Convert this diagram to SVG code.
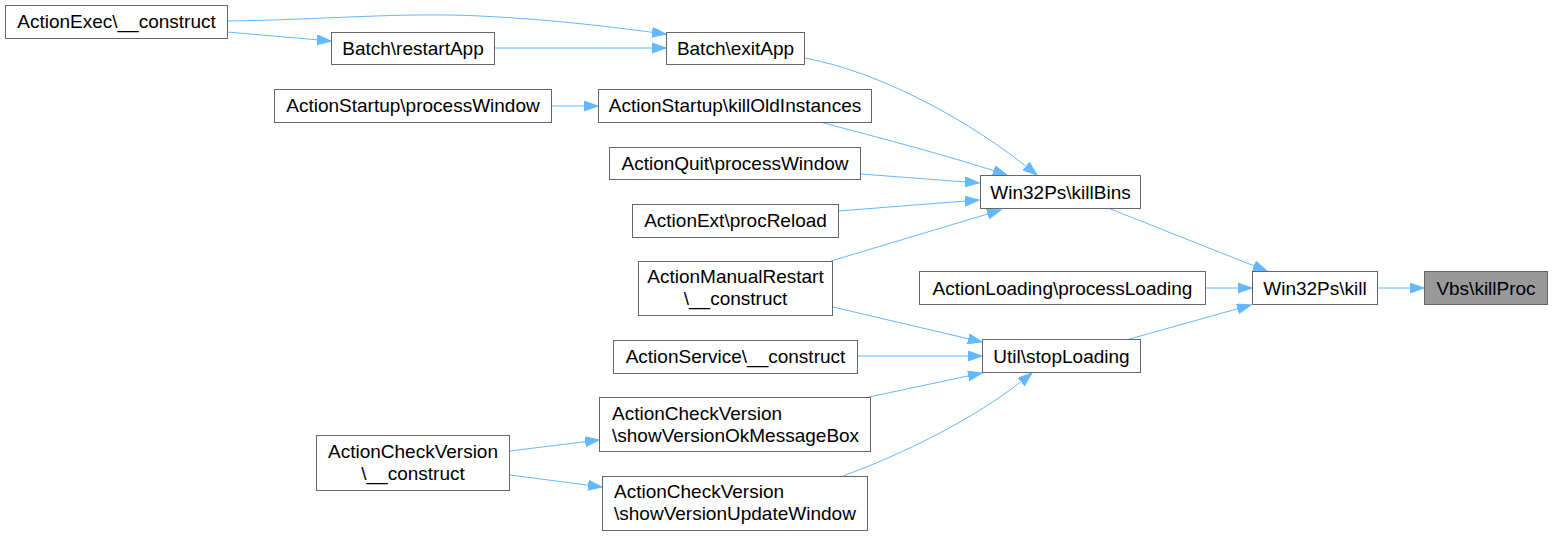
<svg xmlns="http://www.w3.org/2000/svg" width="1552" height="536" viewBox="0 0 1552 536">
<style>
.n rect{fill:#ffffff;stroke:#666666;stroke-width:1}
.n text{font-family:"Liberation Sans",Arial,sans-serif;font-size:19px;fill:#000000;text-anchor:middle}
.n text.l{text-anchor:start}
#n12 rect{fill:#999999}
#edges path{fill:none;stroke:#63b8ff;stroke-width:1;marker-end:url(#arr)}
</style>
<defs>
<marker id="arr" markerUnits="userSpaceOnUse" markerWidth="16" markerHeight="12" refX="14" refY="5" orient="auto">
<path d="M0,0 L14,5 L0,10 z" fill="#63b8ff" stroke="#63b8ff" stroke-width="1"/>
</marker>
</defs>
<rect width="1552" height="536" fill="#ffffff"/>
<g id="edges">
<path d="M227,21 C320,20 400,12 480,16 C560,20 610,27 666,34"/>
<path d="M227,32 L331,41"/>
<path d="M494,48 L666,48"/>
<path d="M551,106 L598,106"/>
<path d="M805,58 C880,72 970,120 1037,175"/>
<path d="M820,122 C880,138 950,156 1007,175"/>
<path d="M861,174 L979,183"/>
<path d="M838,211 L979,200"/>
<path d="M831,261 L1001,210"/>
<path d="M1108,208 L1267,271"/>
<path d="M1205,288 L1252,288"/>
<path d="M1378,288 L1424,288"/>
<path d="M1126,340 L1251,305"/>
<path d="M833,307 L982,342"/>
<path d="M857,356 L982,356"/>
<path d="M869,397 L982,373"/>
<path d="M843,476 C900,455 975,420 1032,373"/>
<path d="M510,451 L599,440"/>
<path d="M510,475 L602,487"/>
</g>
<g id="n1" class="n"><rect x="5.5" y="5.5" width="222" height="33"/><text x="116.5" y="28">ActionExec\__construct</text></g>
<g id="n2" class="n"><rect x="331.5" y="32.5" width="163" height="32"/><text x="413" y="54.5">Batch\restartApp</text></g>
<g id="n3" class="n"><rect x="666.5" y="32.5" width="138" height="32"/><text x="735.5" y="54.5">Batch\exitApp</text></g>
<g id="n4" class="n"><rect x="274.5" y="89.5" width="277" height="33"/><text x="413" y="112">ActionStartup\processWindow</text></g>
<g id="n5" class="n"><rect x="598.5" y="89.5" width="273" height="33"/><text x="735" y="112">ActionStartup\killOldInstances</text></g>
<g id="n6" class="n"><rect x="609.5" y="147.5" width="251" height="32"/><text x="735" y="169.5">ActionQuit\processWindow</text></g>
<g id="n7" class="n"><rect x="632.5" y="204.5" width="206" height="33"/><text x="735.5" y="227">ActionExt\procReload</text></g>
<g id="n8" class="n"><rect x="638.5" y="261.5" width="194" height="54"/><text x="735.5" y="283">ActionManualRestart</text><text x="735.5" y="305">\__construct</text></g>
<g id="n9" class="n"><rect x="980.5" y="175.5" width="160" height="33"/><text x="1060.5" y="198.5">Win32Ps\killBins</text></g>
<g id="n10" class="n"><rect x="919.5" y="271.5" width="286" height="33"/><text x="1062.5" y="294.5">ActionLoading\processLoading</text></g>
<g id="n11" class="n"><rect x="1252.5" y="271.5" width="125" height="33"/><text x="1315" y="294.5">Win32Ps\kill</text></g>
<g id="n12" class="n"><rect x="1424.5" y="271.5" width="123" height="33"/><text x="1486" y="294.5">Vbs\killProc</text></g>
<g id="n13" class="n"><rect x="982.5" y="339.5" width="158" height="33"/><text x="1061.5" y="362.5">Util\stopLoading</text></g>
<g id="n14" class="n"><rect x="613.5" y="340.5" width="244" height="33"/><text x="735.5" y="363">ActionService\__construct</text></g>
<g id="n15" class="n"><rect x="599.5" y="397.5" width="271" height="54"/><text class="l" x="612" y="420">ActionCheckVersion</text><text class="l" x="612" y="442">\showVersionOkMessageBox</text></g>
<g id="n16" class="n"><rect x="602.5" y="476.5" width="265" height="54"/><text class="l" x="614" y="498">ActionCheckVersion</text><text class="l" x="614" y="520">\showVersionUpdateWindow</text></g>
<g id="n17" class="n"><rect x="316.5" y="435.5" width="193" height="55"/><text x="413" y="458">ActionCheckVersion</text><text x="413" y="480">\__construct</text></g>
</svg>
